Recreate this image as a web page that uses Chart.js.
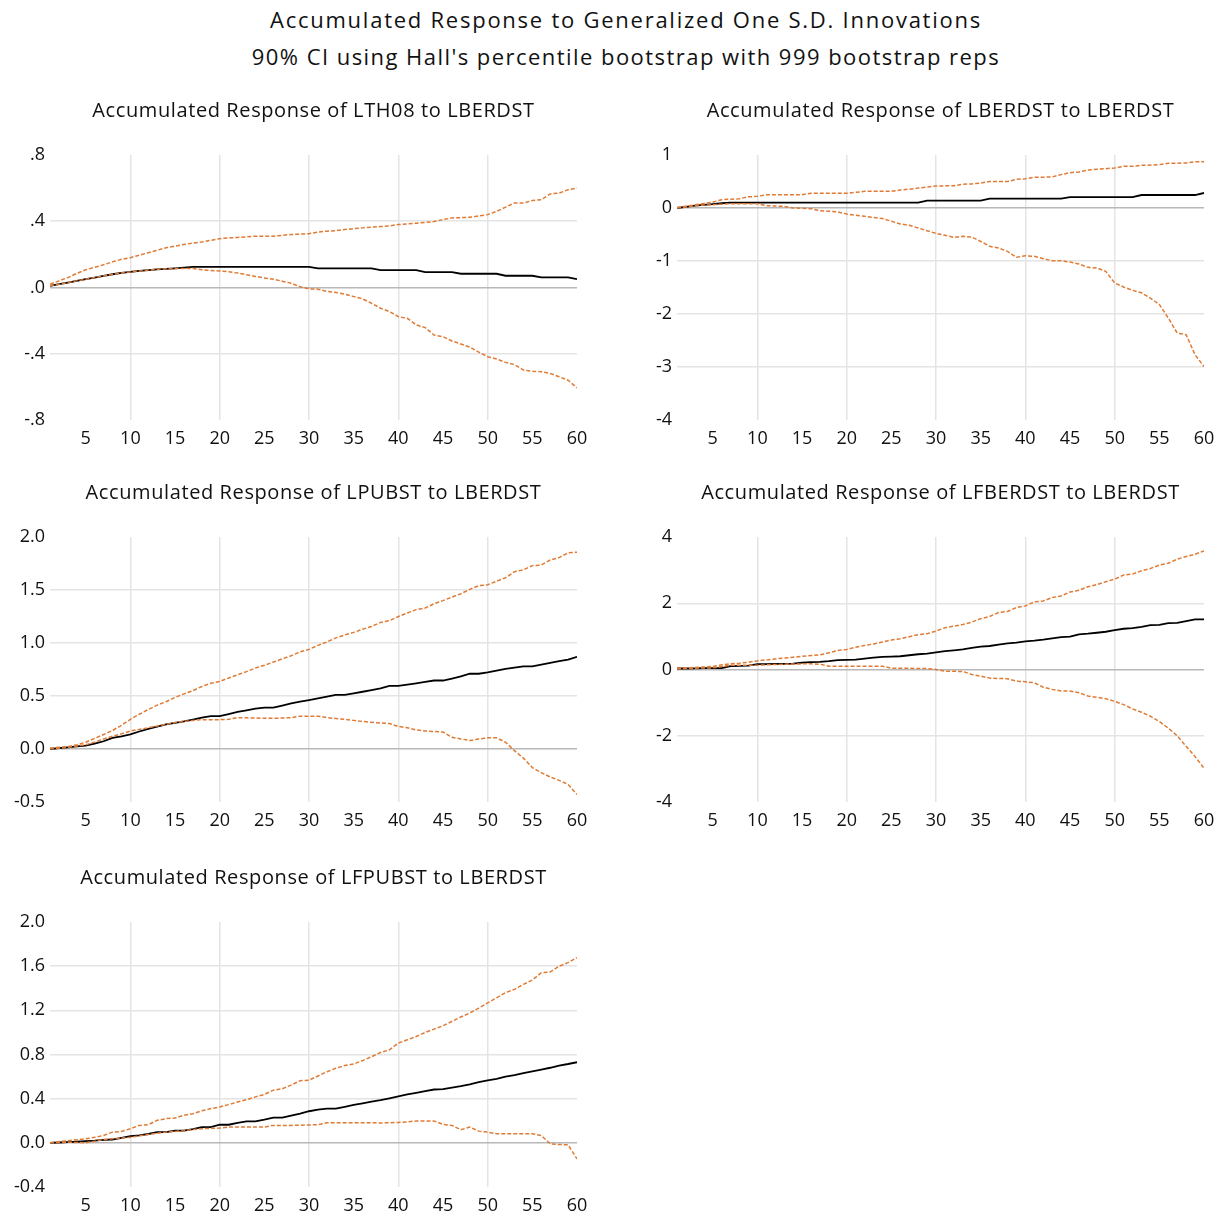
<!DOCTYPE html>
<html>
<head>
<meta charset="utf-8">
<script src="https://cdn.jsdelivr.net/npm/chart.js@4.4.1/dist/chart.umd.min.js"></script>
<style>
  html, body { margin: 0; padding: 0; background: #fff; overflow: hidden; }
  body { width: 1225px; height: 1216px; position: relative; font-family: 'Open Sans', sans-serif; }
  .head { position: absolute; left: 0; width: 1252px; text-align: center; font-size: 22px; color: #111; }
  .box { position: absolute; width: 600px; height: 370px; }
</style>
</head>
<body>
<div class="head" style="top:4px;letter-spacing:1.75px">Accumulated Response to Generalized One S.D. Innovations</div>
<div class="head" style="top:41px;letter-spacing:1.45px">90% CI using Hall's percentile bootstrap with 999 bootstrap reps</div>

<div class="box" style="left:0;top:91px"><canvas id="c1"></canvas></div>
<div class="box" style="left:627px;top:91px"><canvas id="c2"></canvas></div>
<div class="box" style="left:0;top:473px"><canvas id="c3"></canvas></div>
<div class="box" style="left:627px;top:473px"><canvas id="c4"></canvas></div>
<div class="box" style="left:0;top:858px"><canvas id="c5"></canvas></div>

<script>
"use strict";

/* horizon 1..60 */
var periods = Array.from({ length: 60 }, function(_, i) { return i + 1; });
var xTicks  = [5, 10, 15, 20, 25, 30, 35, 40, 45, 50, 55, 60];

/* LTH08 to LBERDST */
var lth08Resp = [0.01,0.02,0.03,0.04,0.05,0.06,0.07,0.08,0.088,0.094,0.1,0.105,0.11,0.113,0.116,0.12,0.125,0.125,0.125,0.125,
  0.125,0.125,0.125,0.125,0.125,0.125,0.125,0.125,0.125,0.125,0.115,0.115,0.115,0.115,0.115,0.115,0.115,0.105,0.105,0.105,
  0.105,0.105,0.093,0.093,0.093,0.093,0.083,0.083,0.083,0.083,0.083,0.071,0.071,0.071,0.071,0.061,0.061,0.061,0.061,0.05];
var lth08Hi = [0.02,0.04,0.06,0.085,0.107,0.122,0.137,0.155,0.17,0.18,0.195,0.21,0.225,0.24,0.25,0.26,0.268,0.275,0.285,0.295,
  0.3,0.302,0.306,0.31,0.31,0.31,0.315,0.32,0.322,0.325,0.335,0.34,0.343,0.35,0.355,0.36,0.364,0.368,0.372,0.38,
  0.384,0.388,0.393,0.398,0.41,0.42,0.422,0.424,0.432,0.44,0.46,0.485,0.51,0.51,0.525,0.53,0.565,0.57,0.59,0.6];
var lth08Lo = [0.01,0.02,0.03,0.04,0.05,0.06,0.07,0.08,0.088,0.094,0.1,0.105,0.11,0.113,0.115,0.115,0.115,0.107,0.103,0.1,
  0.095,0.087,0.077,0.067,0.058,0.05,0.038,0.026,0.004,-0.008,-0.01,-0.024,-0.03,-0.04,-0.055,-0.069,-0.095,-0.125,-0.145,-0.176,
  -0.186,-0.226,-0.242,-0.287,-0.297,-0.323,-0.341,-0.36,-0.39,-0.418,-0.432,-0.452,-0.465,-0.499,-0.505,-0.509,-0.519,-0.539,-0.56,-0.606];

/* LBERDST to LBERDST */
var berdResp = [0,0.02,0.044,0.06,0.075,0.09,0.1,0.1,0.1,0.1,0.1,0.1,0.1,0.1,0.1,0.1,0.1,0.1,0.1,0.1,
  0.1,0.1,0.1,0.1,0.1,0.1,0.1,0.1,0.138,0.138,0.138,0.138,0.138,0.138,0.138,0.176,0.176,0.176,0.176,0.176,
  0.176,0.176,0.176,0.176,0.207,0.207,0.207,0.207,0.207,0.207,0.207,0.207,0.245,0.245,0.245,0.245,0.245,0.245,0.245,0.283];
var berdHi = [0.01,0.035,0.06,0.085,0.11,0.157,0.165,0.176,0.21,0.22,0.25,0.25,0.25,0.25,0.25,0.28,0.28,0.278,0.278,0.277,
  0.295,0.314,0.314,0.314,0.314,0.34,0.355,0.377,0.395,0.415,0.418,0.42,0.45,0.455,0.47,0.5,0.5,0.5,0.54,0.55,
  0.58,0.582,0.585,0.63,0.667,0.68,0.717,0.73,0.742,0.755,0.786,0.786,0.805,0.81,0.818,0.843,0.846,0.85,0.874,0.874];
var berdLo = [0,0.02,0.044,0.055,0.063,0.072,0.08,0.08,0.08,0.08,0.044,0.037,0.03,0,-0.005,-0.013,-0.05,-0.06,-0.075,-0.113,
  -0.135,-0.157,-0.178,-0.2,-0.25,-0.3,-0.327,-0.377,-0.43,-0.478,-0.516,-0.553,-0.535,-0.547,-0.63,-0.723,-0.755,-0.818,-0.93,-0.9,
  -0.912,-0.956,-0.994,-0.994,-1.02,-1.057,-1.12,-1.13,-1.195,-1.415,-1.49,-1.553,-1.6,-1.7,-1.82,-2.075,-2.36,-2.39,-2.77,-2.99];

/* LPUBST to LBERDST */
var pubResp = [0,0.008,0.016,0.024,0.032,0.05,0.073,0.105,0.12,0.137,0.165,0.19,0.21,0.232,0.246,0.26,0.278,0.296,0.31,0.31,
  0.33,0.35,0.365,0.38,0.39,0.39,0.41,0.43,0.446,0.462,0.478,0.494,0.51,0.51,0.525,0.54,0.556,0.573,0.595,0.595,
  0.608,0.62,0.633,0.646,0.646,0.665,0.685,0.71,0.71,0.723,0.74,0.755,0.768,0.78,0.78,0.796,0.812,0.828,0.844,0.87];
var pubHi = [0.01,0.016,0.022,0.04,0.064,0.1,0.137,0.175,0.223,0.28,0.328,0.373,0.414,0.446,0.487,0.52,0.55,0.59,0.62,0.637,
  0.67,0.7,0.73,0.764,0.79,0.82,0.85,0.88,0.917,0.94,0.978,1.01,1.048,1.076,1.1,1.13,1.156,1.194,1.21,1.25,
  1.283,1.315,1.33,1.37,1.4,1.433,1.465,1.506,1.54,1.55,1.583,1.615,1.672,1.69,1.73,1.735,1.783,1.806,1.85,1.857];
var pubLo = [0,0.008,0.016,0.028,0.04,0.065,0.095,0.12,0.143,0.17,0.185,0.2,0.217,0.232,0.25,0.26,0.27,0.277,0.277,0.277,
  0.28,0.296,0.294,0.292,0.29,0.29,0.292,0.296,0.31,0.31,0.31,0.296,0.288,0.28,0.27,0.26,0.252,0.245,0.24,0.213,
  0.2,0.18,0.17,0.165,0.16,0.11,0.095,0.08,0.095,0.105,0.105,0.064,-0.016,-0.086,-0.175,-0.223,-0.264,-0.296,-0.334,-0.43];

/* LFBERDST to LBERDST */
var fberdResp = [0.03,0.03,0.035,0.04,0.04,0.04,0.1,0.11,0.12,0.16,0.16,0.17,0.17,0.18,0.21,0.22,0.23,0.25,0.28,0.29,
  0.3,0.33,0.36,0.38,0.39,0.4,0.43,0.46,0.48,0.52,0.556,0.58,0.61,0.65,0.69,0.71,0.75,0.79,0.81,0.85,
  0.87,0.9,0.94,0.98,0.99,1.06,1.08,1.11,1.14,1.19,1.23,1.25,1.29,1.34,1.35,1.4,1.41,1.46,1.515,1.515];
var fberdHi = [0.04,0.05,0.06,0.075,0.09,0.14,0.17,0.19,0.22,0.26,0.29,0.32,0.345,0.37,0.4,0.42,0.44,0.505,0.576,0.606,
  0.67,0.727,0.77,0.83,0.89,0.93,0.99,1.05,1.08,1.16,1.26,1.31,1.36,1.43,1.535,1.6,1.72,1.75,1.87,1.92,
  2.04,2.07,2.17,2.22,2.34,2.39,2.5,2.56,2.65,2.73,2.85,2.88,2.98,3.05,3.15,3.21,3.33,3.41,3.48,3.58];
var fberdLo = [0.02,0.03,0.04,0.045,0.05,0.09,0.13,0.13,0.13,0.13,0.14,0.15,0.16,0.165,0.17,0.17,0.16,0.1,0.1,0.1,
  0.1,0.1,0.1,0.1,0.04,0.04,0.035,0.03,0.03,0,-0.05,-0.055,-0.06,-0.15,-0.2,-0.26,-0.27,-0.28,-0.35,-0.37,
  -0.4,-0.535,-0.6,-0.65,-0.65,-0.7,-0.8,-0.84,-0.88,-0.96,-1.06,-1.19,-1.29,-1.41,-1.57,-1.77,-2,-2.32,-2.63,-2.98];

/* LFPUBST to LBERDST */
var fpubResp = [0,0.003,0.006,0.01,0.015,0.02,0.027,0.03,0.045,0.06,0.067,0.08,0.097,0.097,0.11,0.11,0.125,0.143,0.143,0.164,
  0.164,0.18,0.195,0.195,0.21,0.228,0.228,0.246,0.264,0.286,0.3,0.31,0.31,0.326,0.343,0.358,0.374,0.386,0.403,0.42,
  0.438,0.453,0.468,0.483,0.486,0.5,0.514,0.53,0.55,0.565,0.58,0.6,0.614,0.632,0.647,0.663,0.68,0.7,0.714,0.73];
var fpubHi = [0,0.01,0.02,0.028,0.036,0.05,0.067,0.097,0.103,0.128,0.158,0.164,0.204,0.219,0.225,0.25,0.264,0.29,0.31,0.325,
  0.346,0.37,0.39,0.416,0.438,0.477,0.49,0.523,0.562,0.568,0.605,0.644,0.675,0.7,0.714,0.745,0.78,0.818,0.842,0.903,
  0.933,0.963,1,1.03,1.06,1.1,1.14,1.176,1.22,1.267,1.313,1.36,1.39,1.435,1.474,1.54,1.547,1.6,1.632,1.678];
var fpubLo = [0,0.003,0.006,0.003,0,0.015,0.03,0.037,0.043,0.05,0.063,0.076,0.086,0.097,0.103,0.11,0.12,0.128,0.131,0.134,
  0.143,0.143,0.143,0.143,0.143,0.158,0.158,0.158,0.16,0.162,0.164,0.182,0.182,0.182,0.182,0.182,0.182,0.18,0.182,0.185,
  0.19,0.198,0.198,0.198,0.167,0.158,0.118,0.143,0.106,0.097,0.082,0.082,0.082,0.082,0.082,0.067,-0.009,-0.015,-0.018,-0.146];

/* y tick sets */
var yTicks1 = [-0.8, -0.4, 0, 0.4, 0.8];
var yTicks2 = [-4, -3, -2, -1, 0, 1];
var yTicks3 = [-0.5, 0, 0.5, 1, 1.5, 2];
var yTicks4 = [-4, -2, 0, 2, 4];
var yTicks5 = [-0.4, 0, 0.4, 0.8, 1.2, 1.6, 2];

var FONT   = "'Open Sans', sans-serif";
var ORANGE = '#E07B35';
var GRID   = '#e4e4e4';
var ZERO   = '#b8b8b8';

function noLeadZero(v) {
  var s = v.toFixed(1);
  return s.replace(/^(-?)0\./, '$1.');
}

/* panel title centred over the plot area, like the EViews layout */
var panelTitle = {
  id: 'panelTitle',
  afterDraw: function(chart, args, opts) {
    var ctx = chart.ctx, a = chart.chartArea;
    ctx.save();
    ctx.font = '20px ' + FONT;
    if ('letterSpacing' in ctx) ctx.letterSpacing = '0.6px';
    ctx.fillStyle = '#111';
    ctx.textAlign = 'center';
    ctx.textBaseline = 'middle';
    ctx.fillText(opts.text, (a.left + a.right) / 2, 20);
    ctx.restore();
  }
};

function makePanel(id, title, resp, hi, lo, yTicks, fmt) {
  var yMin = yTicks[0], yMax = yTicks[yTicks.length - 1];
  new Chart(document.getElementById(id), {
    type: 'line',
    plugins: [panelTitle],
    data: {
      labels: periods,
      datasets: [
        { data: hi,   borderColor: ORANGE, borderWidth: 1.5, borderDash: [4, 2], pointRadius: 0, tension: 0 },
        { data: lo,   borderColor: ORANGE, borderWidth: 1.5, borderDash: [4, 2], pointRadius: 0, tension: 0 },
        { data: resp, borderColor: '#000', borderWidth: 1.8, pointRadius: 0, tension: 0 }
      ]
    },
    options: {
      responsive: true,
      maintainAspectRatio: false,
      animation: false,
      layout: { padding: { left: 0, right: 23, top: 64, bottom: 0 } },
      plugins: {
        legend: { display: false },
        tooltip: { enabled: false },
        title: { display: false },
        panelTitle: { text: title }
      },
      scales: {
        x: {
          type: 'linear', min: 1, max: 60,
          afterBuildTicks: function(s) { s.ticks = xTicks.map(function(v) { return { value: v }; }); },
          afterFit: function(s) { s.height = 41; },
          border: { display: false },
          grid: {
            drawTicks: false,
            color: function(c) { return (c.tick && c.tick.value % 10 === 0 && c.tick.value < 60) ? GRID : 'rgba(0,0,0,0)'; },
            lineWidth: 1.5
          },
          ticks: { color: '#111', padding: 8, autoSkip: false, maxRotation: 0, font: { family: FONT, size: 18 } }
        },
        y: {
          min: yMin, max: yMax,
          afterBuildTicks: function(s) { s.ticks = yTicks.map(function(v) { return { value: v }; }); },
          afterFit: function(s) { s.width = 50; },
          border: { display: false },
          grid: {
            drawTicks: false,
            color: function(c) {
              if (!c.tick) return 'rgba(0,0,0,0)';
              if (c.tick.value === 0) return ZERO;
              if (c.tick.value === yMin || c.tick.value === yMax) return 'rgba(0,0,0,0)';
              return GRID;
            },
            lineWidth: 1.5
          },
          ticks: { color: '#111', padding: 5, font: { family: FONT, size: 18 }, callback: fmt }
        }
      }
    }
  });
}

makePanel('c1', 'Accumulated Response of LTH08 to LBERDST', lth08Resp, lth08Hi, lth08Lo, yTicks1, noLeadZero);
makePanel('c2', 'Accumulated Response of LBERDST to LBERDST', berdResp, berdHi, berdLo, yTicks2, function(v) { return String(v); });
makePanel('c3', 'Accumulated Response of LPUBST to LBERDST', pubResp, pubHi, pubLo, yTicks3, function(v) { return v.toFixed(1); });
makePanel('c4', 'Accumulated Response of LFBERDST to LBERDST', fberdResp, fberdHi, fberdLo, yTicks4, function(v) { return String(v); });
makePanel('c5', 'Accumulated Response of LFPUBST to LBERDST', fpubResp, fpubHi, fpubLo, yTicks5, function(v) { return v.toFixed(1); });
</script>
</body>
</html>
